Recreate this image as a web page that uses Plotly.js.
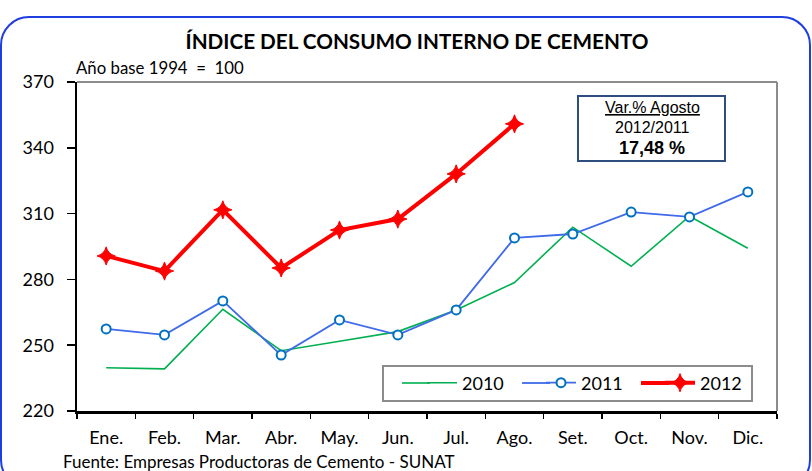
<!DOCTYPE html>
<html>
<head>
<meta charset="utf-8">
<script src="https://cdn.plot.ly/plotly-3.0.1.min.js"></script>
<style>
html,body{margin:0;padding:0;background:#fff;}
#chart{width:812px;height:471px;}
</style>
</head>
<body>
<div id="chart"></div>
<script>
const months = ["Ene.","Feb.","Mar.","Abr.","May.","Jun.","Jul.","Ago.","Set.","Oct.","Nov.","Dic."];
const y2010 = [239.7, 239.2, 266.4, 247.5, 251.8, 256.2, 266.1, 278.6, 303.8, 286.0, 308.8, 294.2];
const y2011 = [257.4, 254.7, 270.2, 245.5, 261.5, 254.7, 266.1, 298.9, 300.7, 310.7, 308.5, 319.9];
const y2012 = [290.7, 283.8, 311.7, 285.2, 302.5, 307.5, 328.1, 350.9];
const yTicks = [220, 250, 280, 310, 340, 370];

const calib = "Lato, 'Open Sans', sans-serif";
const arial = "'Liberation Sans', Arial, sans-serif";

// pixel -> paper helpers for decoration (plot area: x 77..777, y 82..411)
const L = 77, R = 777, T = 82, B = 411;
const px = X => (X - L) / (R - L);
const py = Y => (B - Y) / (B - T);
function roundRect(x1, y1, x2, y2, r) {
  const k = 0.5523 * r;
  const p = (X, Y) => px(X).toFixed(5) + "," + py(Y).toFixed(5);
  return "M" + p(x1 + r, y1) +
    " L" + p(x2 - r, y1) +
    " C" + p(x2 - r + k, y1) + " " + p(x2, y1 + r - k) + " " + p(x2, y1 + r) +
    " L" + p(x2, y2 - r) +
    " C" + p(x2, y2 - r + k) + " " + p(x2 - r + k, y2) + " " + p(x2 - r, y2) +
    " L" + p(x1 + r, y2) +
    " C" + p(x1 + r - k, y2) + " " + p(x1, y2 - r + k) + " " + p(x1, y2 - r) +
    " L" + p(x1, y1 + r) +
    " C" + p(x1, y1 + r - k) + " " + p(x1 + r - k, y1) + " " + p(x1 + r, y1) + " Z";
}

const traces = [
  {
    x: months, y: y2010, name: "2010", type: "scatter", mode: "lines",
    line: {color: "#00b050", width: 1.6}
  },
  {
    x: months, y: y2011, name: "2011", type: "scatter", mode: "lines+markers",
    line: {color: "#3f6ae8", width: 1.8},
    marker: {symbol: "circle", size: 9, color: "#ffffff", line: {color: "#0070c0", width: 2}}
  },
  {
    x: months.slice(0, y2012.length), y: y2012, name: "2012", type: "scatter", mode: "lines+markers",
    line: {color: "#ff0000", width: 4},
    marker: {symbol: "star-diamond", size: 13, color: "#ff0000", line: {color: "#ff0000", width: 1}}
  }
];

const legY = 383;
// legend key line extensions (decoration so keys match the longer reference keys)
function keyExt(x0, x1, color, width) {
  return {type: "line", xref: "paper", yref: "paper", x0: px(x0), x1: px(x1), y0: py(legY), y1: py(legY),
          line: {color: color, width: width}};
}

const layout = {
  width: 812, height: 471,
  margin: {l: L, r: 812 - R, t: T, b: 471 - B},
  paper_bgcolor: "#ffffff", plot_bgcolor: "#ffffff",
  showlegend: true,
  title: {
    text: "<b>ÍNDICE DEL CONSUMO INTERNO DE CEMENTO</b>",
    font: {family: calib, size: 20.7, color: "#000"},
    x: 417 / 812, xanchor: "center", y: 1 - 42 / 471, yanchor: "middle"
  },
  xaxis: {
    type: "category", categoryarray: months, range: [-0.5, 11.5],
    showline: true, linecolor: "#000", linewidth: 2.5,
    ticks: "outside", ticklen: 5, tickwidth: 1.5, tickcolor: "#000",
    tickson: "boundaries", ticklabelstandoff: 9,
    showgrid: false, zeroline: false,
    tickfont: {family: calib, size: 18, color: "#000"}
  },
  yaxis: {
    range: [220, 370], tickvals: yTicks, ticktext: yTicks.map(String),
    showline: true, linecolor: "#000", linewidth: 2.5,
    ticks: "outside", ticklen: 8, tickwidth: 1.5, tickcolor: "#000",
    ticklabelstandoff: 9,
    showgrid: false, zeroline: false,
    tickfont: {family: calib, size: 18, color: "#000"}
  },
  legend: {
    orientation: "h", x: px(422), y: py(legY), xanchor: "left", yanchor: "middle",
    bgcolor: "rgba(0,0,0,0)", borderwidth: 0,
    font: {family: calib, size: 18, color: "#000"},
    entrywidth: 74
  },
  shapes: [
    {type: "path", xref: "paper", yref: "paper", path: roundRect(1, 17, 810, 488, 28),
     line: {color: "#1f3ee0", width: 2}, fillcolor: "rgba(0,0,0,0)", layer: "below"},
    {type: "line", xref: "paper", yref: "paper", x0: 0, x1: 1, y0: 1, y1: 1,
     line: {color: "#8c8c8c", width: 2}},
    {type: "line", xref: "paper", yref: "paper", x0: 1, x1: 1, y0: 0, y1: 1,
     line: {color: "#8c8c8c", width: 2}},
    {type: "rect", xref: "paper", yref: "paper", x0: px(578), x1: px(725), y0: py(161), y1: py(96),
     line: {color: "#2f4d7e", width: 2}, fillcolor: "#ffffff"},
    {type: "rect", xref: "paper", yref: "paper", x0: px(383), x1: px(752), y0: py(401), y1: py(366),
     line: {color: "#8c8c8c", width: 2}, fillcolor: "#ffffff"},
    keyExt(402, 430, "#00b050", 1.6),
    keyExt(522, 550, "#3f6ae8", 1.8),
    keyExt(641, 669, "#ff0000", 4)
  ],
  annotations: [
    {text: "Año base 1994\u00A0\u00A0=\u00A0\u00A0100", xref: "paper", yref: "paper", x: px(74), y: py(68),
     xanchor: "left", yanchor: "middle", showarrow: false,
     font: {family: calib, size: 16.8, color: "#000"}},
    {text: "<u>Var.% Agosto</u>", xref: "paper", yref: "paper", x: px(652), y: py(108),
     xanchor: "center", yanchor: "middle", showarrow: false,
     font: {family: arial, size: 16, color: "#000"}},
    {text: "2012/2011", xref: "paper", yref: "paper", x: px(652), y: py(128),
     xanchor: "center", yanchor: "middle", showarrow: false,
     font: {family: arial, size: 16, color: "#000"}},
    {text: "<b>17,48 %</b>", xref: "paper", yref: "paper", x: px(652), y: py(148),
     xanchor: "center", yanchor: "middle", showarrow: false,
     font: {family: arial, size: 18, color: "#000"}},
    {text: "Fuente: Empresas Productoras de Cemento - SUNAT", xref: "paper", yref: "paper",
     x: px(61), y: py(461), xanchor: "left", yanchor: "middle", showarrow: false,
     font: {family: calib, size: 17, color: "#000"}}
  ]
};

Plotly.newPlot("chart", traces, layout, {displayModeBar: false, staticPlot: true});
</script>
</body>
</html>
